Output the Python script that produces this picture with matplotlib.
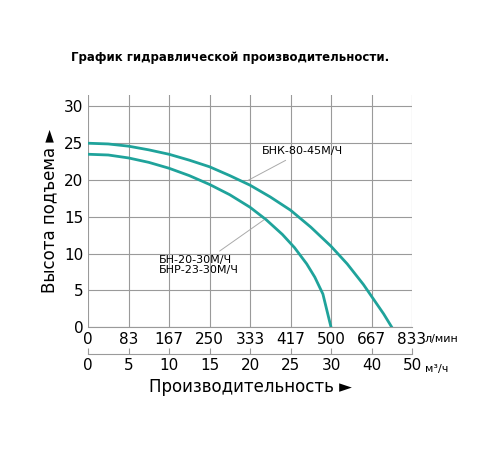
import matplotlib.pyplot as plt

# positions on the x grid (0..40), labelled unevenly as in the original
pos = [0, 5, 10, 15, 20, 25, 30, 35, 40]
lmin_labels = ['0', '83', '167', '250', '333', '417', '500', '667', '833']
m3h_labels = ['0', '5', '10', '15', '20', '25', '30', '40', '50']

bn_x = [0, 2.5, 5, 7.5, 10, 12.5, 15, 17.5, 20, 22, 24, 25.5, 27, 28, 29, 30]
bn_y = [23.5, 23.4, 23.0, 22.4, 21.6, 20.6, 19.4, 18.0, 16.3, 14.6, 12.6, 10.8, 8.6, 6.8, 4.5, 0]
bnk_x = [0, 2.5, 5, 7.5, 10, 12.5, 15, 17.5, 20, 22.5, 25, 27.5, 30, 32, 34, 35.5, 36.5, 37.5]
bnk_y = [25.0, 24.9, 24.6, 24.1, 23.5, 22.7, 21.8, 20.6, 19.3, 17.7, 15.9, 13.6, 11.0, 8.6, 5.8, 3.4, 1.8, 0]

teal = '#1fa39b'
fig = plt.figure(figsize=(5, 4.5), dpi=100)
ax = fig.add_axes([0.176, 0.273, 0.648, 0.515])
ax.plot(bn_x, bn_y, color=teal, lw=2)
ax.plot(bnk_x, bnk_y, color=teal, lw=2)
ax.set_xlim(0, 40)
ax.set_ylim(0, 31.5)
ax.set_xticks(pos)
ax.set_xticklabels(lmin_labels, fontsize=11)
ax.set_yticks(range(0, 31, 5))
ax.tick_params(labelsize=11, length=0)
ax.grid(color='#9a9a9a', lw=0.8)
for s in ['top', 'right', 'left']:
    ax.spines[s].set_visible(False)
ax.spines['bottom'].set_color('#9a9a9a')
ax.set_ylabel('Высота подъема ►', fontsize=12)
ax.text(41.6, -1.6, 'л/мин', fontsize=8, va='center')

ax2 = ax.secondary_xaxis(-0.115)
ax2.set_xticks(pos)
ax2.set_xticklabels(m3h_labels, fontsize=11)
ax2.tick_params(direction='in', length=4, color='#9a9a9a', pad=3)
ax2.spines['bottom'].set_color('#9a9a9a')
ax.text(41.6, -5.7, 'м³/ч', fontsize=8, va='center')
ax.text(20, -8.1, 'Производительность ►', fontsize=12, ha='center', va='center')

ax.annotate('БНК-80-45М/Ч', xy=(19.5, 19.8), xytext=(21.5, 23.5), fontsize=8,
            arrowprops=dict(arrowstyle='-', color='#aaaaaa', lw=0.7))
ax.annotate('БН-20-30М/Ч\nБНР-23-30М/Ч', xy=(22, 14.8), xytext=(8.8, 7.3), fontsize=8,
            linespacing=1.0, arrowprops=dict(arrowstyle='-', color='#aaaaaa', lw=0.7))

fig.text(0.46, 0.865, 'График гидравлической производительности.', fontsize=8.5,
         fontweight='bold', ha='center')
fig.savefig('out.png', dpi=100)
